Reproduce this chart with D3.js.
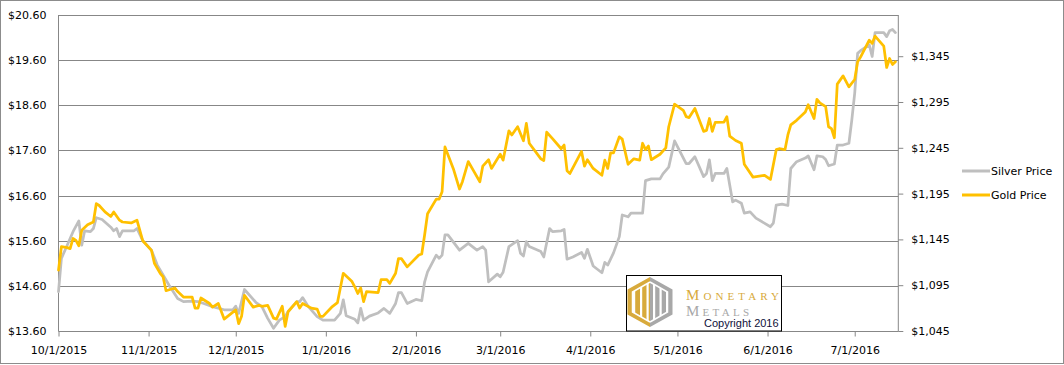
<!DOCTYPE html>
<html>
<head>
<meta charset="utf-8">
<script src="https://cdn.jsdelivr.net/npm/d3@7"></script>
<style>
  body { margin: 0; background: #fff; }
  svg { display: block; font-family: "DejaVu Sans", sans-serif; }
</style>
</head>
<body>
<svg width="1064" height="365"></svg>
<script>
// silver price (left axis)
const silver = [
  ["2015-10-01",14.47],["2015-10-02",15.21],["2015-10-04",15.50],["2015-10-06",15.80],["2015-10-08",16.04],
  ["2015-10-09",15.50],["2015-10-10",15.82],["2015-10-12",15.80],["2015-10-13",15.87],["2015-10-14",16.11],
  ["2015-10-16",16.07],["2015-10-19",15.90],["2015-10-20",15.82],["2015-10-21",15.87],["2015-10-22",15.69],
  ["2015-10-23",15.82],["2015-10-27",15.82],["2015-10-28",15.87],["2015-10-30",15.60],["2015-11-02",15.39],
  ["2015-11-04",15.06],["2015-11-07",14.73],["2015-11-08",14.62],["2015-11-11",14.32],["2015-11-13",14.25],
  ["2015-11-16",14.26],["2015-11-18",14.25],["2015-11-20",14.21],["2015-11-23",14.14],["2015-11-27",14.07],
  ["2015-11-30",14.07],["2015-12-01",14.15],["2015-12-02",13.99],["2015-12-04",14.52],["2015-12-08",14.23],
  ["2015-12-10",14.14],["2015-12-12",13.88],["2015-12-14",13.66],["2015-12-16",13.84],["2015-12-18",13.92],
  ["2015-12-19",14.03],["2015-12-22",14.25],["2015-12-23",14.25],["2015-12-24",14.34],["2015-12-26",14.14],
  ["2015-12-29",13.92],["2015-12-31",13.84],["2016-01-04",13.84],["2016-01-06",13.99],["2016-01-07",14.29],
  ["2016-01-08",13.94],["2016-01-11",13.86],["2016-01-12",13.78],["2016-01-13",14.10],["2016-01-14",13.84],
  ["2016-01-16",13.93],["2016-01-19",14.00],["2016-01-21",14.10],["2016-01-23",13.99],["2016-01-25",14.21],
  ["2016-01-26",14.45],["2016-01-27",14.45],["2016-01-29",14.21],["2016-02-01",14.30],["2016-02-03",14.27],
  ["2016-02-04",14.69],["2016-02-05",14.91],["2016-02-08",15.28],["2016-02-09",15.21],["2016-02-10",15.28],
  ["2016-02-11",15.73],["2016-02-12",15.73],["2016-02-16",15.39],["2016-02-19",15.54],["2016-02-22",15.39],
  ["2016-02-24",15.47],["2016-02-25",15.39],["2016-02-26",14.69],["2016-02-29",14.86],["2016-03-01",14.80],
  ["2016-03-02",14.90],["2016-03-04",15.47],["2016-03-07",15.60],["2016-03-08",15.32],["2016-03-09",15.26],
  ["2016-03-10",15.58],["2016-03-11",15.47],["2016-03-15",15.36],["2016-03-16",15.24],["2016-03-18",15.87],
  ["2016-03-19",15.80],["2016-03-22",15.82],["2016-03-23",15.85],["2016-03-24",15.19],["2016-03-26",15.24],
  ["2016-03-29",15.34],["2016-03-30",15.21],["2016-03-31",15.41],["2016-04-02",15.04],["2016-04-05",14.89],
  ["2016-04-06",15.12],["2016-04-07",15.06],["2016-04-09",15.33],["2016-04-11",15.69],["2016-04-12",16.17],
  ["2016-04-14",16.13],["2016-04-15",16.21],["2016-04-19",16.21],["2016-04-20",16.93],["2016-04-22",16.97],
  ["2016-04-25",16.97],["2016-04-26",17.08],["2016-04-28",17.23],["2016-04-30",17.81],["2016-05-04",17.31],
  ["2016-05-05",17.31],["2016-05-07",17.46],["2016-05-10",17.02],["2016-05-11",17.09],["2016-05-12",17.39],
  ["2016-05-13",16.93],["2016-05-14",17.09],["2016-05-17",17.09],["2016-05-18",17.20],["2016-05-20",16.46],
  ["2016-05-21",16.50],["2016-05-23",16.43],["2016-05-24",16.21],["2016-05-26",16.24],["2016-05-28",16.10],
  ["2016-06-02",15.91],["2016-06-03",15.99],["2016-06-04",16.39],["2016-06-06",16.41],["2016-06-08",16.38],
  ["2016-06-09",17.20],["2016-06-11",17.35],["2016-06-14",17.43],["2016-06-15",17.48],["2016-06-17",17.17],
  ["2016-06-18",17.48],["2016-06-20",17.46],["2016-06-21",17.40],["2016-06-22",17.26],["2016-06-24",17.30],
  ["2016-06-25",17.72],["2016-06-27",17.72],["2016-06-29",17.76],["2016-06-30",18.27],["2016-07-01",18.87],
  ["2016-07-02",19.75],["2016-07-03",19.81],["2016-07-06",19.94],["2016-07-07",19.68],["2016-07-08",20.21],
  ["2016-07-11",20.21],["2016-07-12",20.12],["2016-07-13",20.25],["2016-07-14",20.28],["2016-07-15",20.21]
];

// gold price (right axis)
const gold = [
  ["2015-10-01",1111.5],["2015-10-02",1137],["2015-10-04",1136],["2015-10-05",1135],["2015-10-06",1146],
  ["2015-10-07",1144],["2015-10-08",1138],["2015-10-09",1155],["2015-10-11",1161],["2015-10-13",1164],
  ["2015-10-14",1184],["2015-10-15",1182],["2015-10-17",1175],["2015-10-19",1170],["2015-10-20",1175],
  ["2015-10-22",1166],["2015-10-23",1164],["2015-10-26",1163],["2015-10-28",1166],["2015-10-30",1143.5],
  ["2015-11-02",1133],["2015-11-03",1119],["2015-11-05",1108],["2015-11-06",1104],["2015-11-07",1089],
  ["2015-11-10",1092],["2015-11-11",1088],["2015-11-13",1082],["2015-11-16",1082],["2015-11-17",1070],
  ["2015-11-18",1070],["2015-11-19",1081],["2015-11-22",1075],["2015-11-23",1071],["2015-11-25",1075],
  ["2015-11-27",1058],["2015-12-01",1068],["2015-12-02",1053],["2015-12-03",1061],["2015-12-04",1084],
  ["2015-12-07",1071],["2015-12-09",1073],["2015-12-10",1072],["2015-12-12",1073],["2015-12-14",1059],
  ["2015-12-15",1058],["2015-12-17",1072],["2015-12-18",1050],["2015-12-19",1066],["2015-12-22",1077],
  ["2015-12-23",1070],["2015-12-24",1075],["2015-12-27",1070],["2015-12-29",1069],["2015-12-30",1061],
  ["2015-12-31",1061],["2016-01-03",1071],["2016-01-05",1076],["2016-01-07",1108],["2016-01-10",1099],
  ["2016-01-11",1093],["2016-01-12",1086],["2016-01-13",1092],["2016-01-14",1077],["2016-01-15",1088],
  ["2016-01-19",1087],["2016-01-20",1101],["2016-01-22",1101],["2016-01-23",1097],["2016-01-25",1108],
  ["2016-01-26",1124],["2016-01-27",1124],["2016-01-29",1115],["2016-02-02",1128],["2016-02-03",1129],
  ["2016-02-04",1150],["2016-02-05",1173],["2016-02-08",1189],["2016-02-09",1189],["2016-02-10",1197],
  ["2016-02-11",1246],["2016-02-14",1221],["2016-02-16",1200],["2016-02-17",1208],["2016-02-19",1230],
  ["2016-02-21",1219],["2016-02-23",1208],["2016-02-24",1225],["2016-02-26",1232],["2016-02-27",1222.5],
  ["2016-03-01",1238],["2016-03-02",1231.5],["2016-03-04",1263.5],["2016-03-05",1259],["2016-03-07",1268],
  ["2016-03-09",1252.6],["2016-03-10",1271.6],["2016-03-11",1250],["2016-03-15",1233],["2016-03-16",1231],
  ["2016-03-17",1262],["2016-03-19",1255],["2016-03-22",1244],["2016-03-23",1248],["2016-03-24",1220],
  ["2016-03-25",1217],["2016-03-29",1241],["2016-03-30",1225],["2016-03-31",1232],["2016-04-02",1222.5],
  ["2016-04-05",1215],["2016-04-06",1231.5],["2016-04-07",1222.5],["2016-04-08",1239.5],["2016-04-09",1239.5],
  ["2016-04-11",1257],["2016-04-12",1254.5],["2016-04-14",1227],["2016-04-16",1233],["2016-04-18",1231.5],
  ["2016-04-19",1250],["2016-04-20",1243],["2016-04-21",1247],["2016-04-22",1232],["2016-04-25",1238],
  ["2016-04-27",1245],["2016-04-28",1268],["2016-04-30",1292.6],["2016-05-03",1286],["2016-05-04",1279],
  ["2016-05-05",1278],["2016-05-07",1288],["2016-05-10",1263],["2016-05-11",1264],["2016-05-12",1277],
  ["2016-05-13",1263],["2016-05-14",1272.7],["2016-05-17",1273],["2016-05-18",1279],["2016-05-19",1257.7],
  ["2016-05-21",1253],["2016-05-23",1250],["2016-05-24",1227],["2016-05-27",1213],["2016-05-31",1215],
  ["2016-06-02",1210.5],["2016-06-04",1243],["2016-06-05",1244],["2016-06-07",1243],["2016-06-08",1259],
  ["2016-06-09",1270],["2016-06-11",1275],["2016-06-14",1284],["2016-06-15",1292],["2016-06-17",1277],
  ["2016-06-18",1298],["2016-06-19",1294],["2016-06-21",1290],["2016-06-22",1268],["2016-06-23",1266],
  ["2016-06-24",1256],["2016-06-25",1314.5],["2016-06-27",1323.5],["2016-06-29",1311.5],["2016-07-01",1319.6],
  ["2016-07-02",1338.8],["2016-07-03",1344],["2016-07-06",1362.5],["2016-07-07",1359],["2016-07-08",1367],
  ["2016-07-11",1356],["2016-07-12",1332.7],["2016-07-13",1342.5],["2016-07-14",1336],["2016-07-15",1339]
];

const leftTicks = [13.6, 14.6, 15.6, 16.6, 17.6, 18.6, 19.6, 20.6];
const rightTicks = [1045, 1095, 1145, 1195, 1245, 1295, 1345];
const seriesNames = ["Silver Price", "Gold Price"];
const seriesColors = ["#bfbfbf", "#ffc000"];

const parse = d3.timeParse("%Y-%m-%d");
const silverData = silver.map(d => ({ date: parse(d[0]), v: d[1] }));
const goldData = gold.map(d => ({ date: parse(d[0]), v: d[1] }));

const plotL = 58.5, plotR = 898.3, plotT = 15, plotB = 331;
const grey = "#878787";

const svg = d3.select("svg");

// outer border
svg.append("rect")
  .attr("x", 0.5).attr("y", 0.5).attr("width", 1063).attr("height", 363)
  .attr("fill", "none").attr("stroke", "#8c8c8c");

const x = d3.scaleTime()
  .domain([new Date(2015, 9, 1), new Date(2016, 6, 16)])
  .range([plotL, plotR]);
const yL = d3.scaleLinear().domain([13.6, 20.6]).range([plotB, plotT]);
const yR = d3.scaleLinear().domain([1045, 1390]).range([plotB, plotT]);

// gridlines
svg.append("g").selectAll("line")
  .data(leftTicks)
  .join("line")
  .attr("x1", plotL).attr("x2", plotR)
  .attr("y1", d => Math.round(yL(d)) + 0.5)
  .attr("y2", d => Math.round(yL(d)) + 0.5)
  .attr("stroke", grey);

// axis lines
svg.append("line").attr("x1", plotL).attr("x2", plotL).attr("y1", plotT).attr("y2", plotB + 0.5).attr("stroke", grey);
svg.append("line").attr("x1", plotR).attr("x2", plotR).attr("y1", plotT).attr("y2", plotB + 0.5).attr("stroke", grey);

function styleAxis(g) {
  g.select(".domain").remove();
  g.selectAll(".tick line").attr("stroke", grey);
  g.selectAll("text").attr("fill", "#000").style("font-size", "11px").style("font-family", "DejaVu Sans, sans-serif");
}

svg.append("g")
  .attr("transform", `translate(0,${plotB + 0.5})`)
  .call(d3.axisBottom(x)
    .ticks(d3.timeMonth.every(1))
    .tickFormat(d3.timeFormat("%-m/%-d/%Y"))
    .tickSize(5).tickPadding(10))
  .call(styleAxis);

svg.append("g")
  .attr("transform", `translate(${plotL},0)`)
  .call(d3.axisLeft(yL)
    .tickValues(leftTicks)
    .tickFormat(d => "$" + d3.format(".2f")(d))
    .tickSize(0).tickPadding(12))
  .call(styleAxis);

svg.append("g")
  .attr("transform", `translate(${plotR},0)`)
  .call(d3.axisRight(yR)
    .tickValues(rightTicks)
    .tickFormat(d => "$" + d3.format(",")(d))
    .tickSize(5).tickPadding(8))
  .call(styleAxis);

// series
const lineL = d3.line().x(d => x(d.date)).y(d => yL(d.v));
const lineR = d3.line().x(d => x(d.date)).y(d => yR(d.v));

svg.append("path").datum(silverData)
  .attr("d", lineL).attr("fill", "none")
  .attr("stroke", seriesColors[0]).attr("stroke-width", 2.75)
  .attr("stroke-linejoin", "round").attr("stroke-linecap", "round");

svg.append("path").datum(goldData)
  .attr("d", lineR).attr("fill", "none")
  .attr("stroke", seriesColors[1]).attr("stroke-width", 2.75)
  .attr("stroke-linejoin", "round").attr("stroke-linecap", "round");

// legend
const legend = svg.append("g").selectAll("g")
  .data(seriesNames)
  .join("g")
  .attr("transform", (d, i) => `translate(962,${171 + i * 24})`);
legend.append("line")
  .attr("x1", 0).attr("x2", 28)
  .attr("stroke", (d, i) => seriesColors[i]).attr("stroke-width", 3);
legend.append("text")
  .attr("x", 29).attr("dy", "0.35em")
  .style("font-size", "11px")
  .text(d => d);

// logo box
const logo = svg.append("g");
logo.append("rect")
  .attr("x", 626.5).attr("y", 275.5).attr("width", 155).attr("height", 55.5)
  .attr("fill", "#fff").attr("stroke", "#000");

const cx = 650, cy = 302, hw = 22.5, hh = 25;
const hex = [[cx, cy - hh], [cx + hw, cy - hh / 2], [cx + hw, cy + hh / 2], [cx, cy + hh], [cx - hw, cy + hh / 2], [cx - hw, cy - hh / 2]];
logo.append("path")
  .attr("d", `M${hex[0]}L${hex[5]}L${hex[4]}L${hex[3]}Z`)
  .attr("fill", "#d8aa3c");
logo.append("path")
  .attr("d", `M${hex[0]}L${hex[1]}L${hex[2]}L${hex[3]}Z`)
  .attr("fill", "#a8a8a8");
// white inner gaps forming the columns
const inset = 5;
const inner = hex.map(p => [cx + (p[0] - cx) * (1 - inset / hw), cy + (p[1] - cy) * (1 - inset / hh)]);
logo.append("clipPath").attr("id", "hexclip")
  .append("path").attr("d", "M" + inner.join("L") + "Z");
logo.append("g").attr("clip-path", "url(#hexclip)")
  .selectAll("rect")
  .data([633, 640, 646.5, 653, 659.5, 666])
  .join("rect")
  .attr("x", d => d).attr("y", cy - hh).attr("width", 2.2).attr("height", 2 * hh)
  .attr("fill", "#fff");
logo.append("path")
  .attr("d", `M${inner[0]}L${inner[5]}L${inner[4]}L${inner[3]}`)
  .attr("fill", "none").attr("stroke", "#fff").attr("stroke-width", 1.5);
logo.append("path")
  .attr("d", `M${inner[0]}L${inner[1]}L${inner[2]}L${inner[3]}`)
  .attr("fill", "none").attr("stroke", "#fff").attr("stroke-width", 1.5);

logo.append("text")
  .attr("x", 686).attr("y", 300)
  .attr("textLength", 93).attr("lengthAdjust", "spacing")
  .style("font-family", "Liberation Serif, serif").style("font-size", "15px")
  .style("font-variant", "small-caps").attr("fill", "#d8aa3c")
  .text("Monetary");
logo.append("text")
  .attr("x", 686).attr("y", 315.5)
  .attr("textLength", 63).attr("lengthAdjust", "spacing")
  .style("font-family", "Liberation Serif, serif").style("font-size", "15px")
  .style("font-variant", "small-caps").attr("fill", "#a8a8a8")
  .text("Metals");
logo.append("text")
  .attr("x", 704).attr("y", 327)
  .style("font-family", "Liberation Sans, Arial, sans-serif").style("font-size", "11px")
  .attr("fill", "#10103a")
  .text("Copyright 2016");
</script>
</body>
</html>
